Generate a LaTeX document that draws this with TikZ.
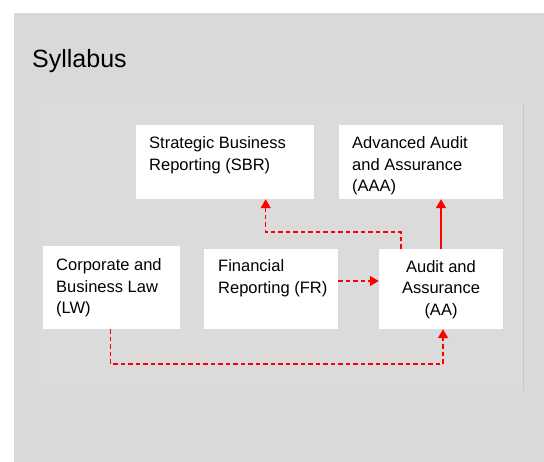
\documentclass[tikz,border=0pt]{standalone}
\usepackage{fontspec}
\setmainfont{Liberation Sans}
\usetikzlibrary{arrows.meta}
\definecolor{bgout}{HTML}{D9D9D9}
\definecolor{bgin}{HTML}{DBDBDB}
\definecolor{arrred}{HTML}{FF0000}
\tikzset{
  course/.style={fill=white, draw=none, inner sep=0pt},
  boxtext/.style={font=\fontsize{16.5}{21.5}\selectfont, inner sep=0pt},
  solidarr/.style={draw=arrred, line width=1.5pt, -{Triangle[length=9pt,width=10pt]}},
  dasharr/.style={draw=arrred, line width=1.5pt, dash pattern=on 4.5pt off 3pt, -{Triangle[length=9pt,width=10pt]}},
}
\begin{document}
\begin{tikzpicture}[x=1pt,y=-1pt]
\useasboundingbox (0,0) rectangle (544,462);
\fill[white] (0,0) rectangle (544,462);
\fill[bgout] (13.5,13) rectangle (544,462);
\fill[bgin] (33,103) rectangle (523,391);
\draw[color=black!22, line width=1pt] (523,104) -- (523,391);
\node[anchor=base west, inner sep=0pt, font=\fontsize{25}{30}\selectfont] (title) at (32,68) {Syllabus};
% boxes
\node[course, minimum width=178pt, minimum height=74pt] (sbr) at (225,162) {};
\node[course, minimum width=164pt, minimum height=74pt] (aaa) at (421,162) {};
\node[course, minimum width=137pt, minimum height=83pt] (lw) at (111.5,287.5) {};
\node[course, minimum width=134pt, minimum height=80pt] (fr) at (271,289) {};
\node[course, minimum width=124pt, minimum height=80pt] (aa) at (441,289) {};
% texts (anchor base = baseline of the last line)
\node[boxtext, anchor=base west, align=left] (sbrt) at (149,170.5) {Strategic Business\\Reporting (SBR)};
\node[boxtext, anchor=base west, align=left] (aaat) at (352,192) {Advanced Audit\\and Assurance\\(AAA)};
\node[boxtext, anchor=base west, align=left] (lwt) at (56,314) {Corporate and\\Business Law\\(LW)};
\node[boxtext, anchor=base west, align=left] (frt) at (218,293.5) {Financial\\Reporting (FR)};
\node[boxtext, anchor=base, align=center] (aat) at (441,315.5) {Audit and\\Assurance\\(AA)};
% connectors
\draw[solidarr] (aa.north) -- (aa.north |- aaa.south);
\draw[dasharr] (aa.north -| 401,0) -- (401,232) -- (265.7,232) -- (sbr.south -| 265.7,0);
\draw[dasharr] (fr.east |- 0,281) -- (aa.west |- 0,281);
\draw[dasharr] (lw.south -| 110.7,0) -- (110.7,364) -- (443,364) -- (aa.south -| 443,0);
\end{tikzpicture}
\end{document}
